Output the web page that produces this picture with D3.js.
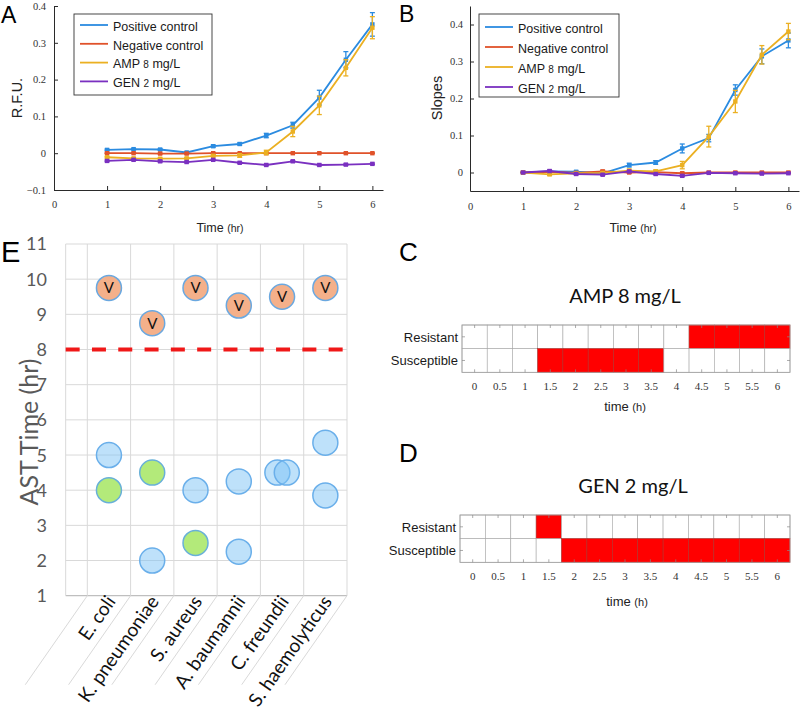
<!DOCTYPE html>
<html><head><meta charset="utf-8">
<script src="https://cdn.jsdelivr.net/npm/d3@7"></script>
<style>body{margin:0;background:#fff}svg{display:block}</style>
</head><body>
<svg id="fig" width="802" height="720"></svg>
<script>
// ---------------- data ----------------
const times = [1, 1.5, 2, 2.5, 3, 3.5, 4, 4.5, 5, 5.5, 6];
const seriesNames = ["Positive control", "Negative control", "AMP 8 mg/L", "GEN 2 mg/L"];

// Panel A: R.F.U.
const rfuPositive    = [0.009, 0.011, 0.010, 0.002, 0.019, 0.025, 0.048, 0.076, 0.151, 0.254, 0.350];
const rfuPositiveErr = [0.002, 0.002, 0.002, 0.002, 0.003, 0.003, 0.006, 0.008, 0.020, 0.022, 0.032];
const rfuNegative    = [0.000, 0.000, -0.001, -0.001, 0.000, 0.000, 0.000, 0.000, 0.000, 0.000, 0.000];
const rfuNegativeErr = [0.001, 0.001, 0.001, 0.001, 0.001, 0.001, 0.001, 0.001, 0.001, 0.001, 0.001];
const rfuAmp         = [-0.011, -0.014, -0.015, -0.014, -0.007, -0.006, 0.002, 0.059, 0.130, 0.232, 0.341];
const rfuAmpErr      = [0.002, 0.002, 0.002, 0.002, 0.003, 0.005, 0.006, 0.014, 0.025, 0.022, 0.030];
const rfuGen         = [-0.021, -0.018, -0.022, -0.024, -0.018, -0.026, -0.032, -0.022, -0.032, -0.031, -0.029];
const rfuGenErr      = [0.002, 0.002, 0.002, 0.002, 0.002, 0.002, 0.002, 0.002, 0.002, 0.002, 0.002];

// Panel B: slopes
const slopePositive    = [0.000, 0.003, 0.002, -0.002, 0.020, 0.027, 0.065, 0.093, 0.223, 0.314, 0.357];
const slopePositiveErr = [0.001, 0.002, 0.002, 0.003, 0.005, 0.005, 0.012, 0.010, 0.014, 0.020, 0.020];
const slopeNegative    = [0.000, 0.002, -0.001, 0.003, 0.000, 0.001, -0.002, 0.000, 0.000, 0.000, 0.000];
const slopeNegativeErr = [0.001, 0.002, 0.002, 0.003, 0.002, 0.002, 0.002, 0.001, 0.002, 0.001, 0.001];
const slopeAmp         = [0.000, -0.005, -0.002, -0.001, 0.005, 0.003, 0.020, 0.097, 0.192, 0.318, 0.381];
const slopeAmpErr      = [0.001, 0.003, 0.003, 0.003, 0.004, 0.004, 0.010, 0.028, 0.030, 0.025, 0.022];
const slopeGen         = [0.000, 0.004, -0.004, -0.006, 0.003, -0.004, -0.009, -0.001, -0.002, -0.003, -0.002];
const slopeGenErr      = [0.001, 0.002, 0.002, 0.002, 0.002, 0.002, 0.002, 0.001, 0.001, 0.001, 0.001];

const rfuTicks = [-0.1, 0, 0.1, 0.2, 0.3, 0.4];
const slopeTicks = [0, 0.1, 0.2, 0.3, 0.4];
const timeTicks = [0, 1, 2, 3, 4, 5, 6];

// Panel E: AST time
const species = ["E. coli", "K. pneumoniae", "S. aureus", "A. baumannii", "C. freundii", "S. haemolyticus"];
const astOverLimit = [9.75, 8.75, 9.75, 9.25, 9.5, 9.75];
const astBlue = [[5.0], [2.0], [4.0], [4.25, 2.25], [4.5, 4.5], [5.35, 3.85]];
const astGreen = [[4.0], [4.5], [2.5], [], [], []];
const astThreshold = 8;
const astTicks = [1, 2, 3, 4, 5, 6, 7, 8, 9, 10, 11];

// Panels C, D: heat maps
const heatTimes = [0, 0.5, 1, 1.5, 2, 2.5, 3, 3.5, 4, 4.5, 5, 5.5, 6];
const heatRows = ["Resistant", "Susceptible"];
const ampCalls = ["", "", "", "Susceptible", "Susceptible", "Susceptible", "Susceptible", "Susceptible", "", "Resistant", "Resistant", "Resistant", "Resistant"];
const genCalls = ["", "", "", "Resistant", "Susceptible", "Susceptible", "Susceptible", "Susceptible", "Susceptible", "Susceptible", "Susceptible", "Susceptible", "Susceptible"];

// ---------------- styles ----------------
const seriesColors = ["#2B8BE0", "#E0522A", "#EBB022", "#7A30C0"];
const sans = "'Liberation Sans', Arial, sans-serif";
const tickFont = "'Liberation Serif', serif";
const officeFont = "Lato, 'Open Sans', sans-serif";

const svg = d3.select("#fig");

function richText(sel, str, bigSize, smallSize) {
  const parts = str.split(/(\d+|\([a-z]+\))/).filter(s => s.length);
  parts.forEach(p => {
    sel.append("tspan").attr("font-size", /^(\d+|\([a-z]+\))$/.test(p) ? smallSize : bigSize).text(p);
  });
}

function linePanel(cfg) {
  const g = svg.append("g");
  const x = d3.scaleLinear().domain([0, 6.2]).range(cfg.xRange);
  const y = d3.scaleLinear().domain(cfg.yDomain).range(cfg.yRange);

  const xAxis = g.append("g").attr("transform", `translate(0,${cfg.yRange[0]})`)
    .call(d3.axisBottom(x).tickValues(timeTicks).tickSizeInner(-4).tickSizeOuter(0).tickPadding(cfg.xPad).tickFormat(d3.format("d")));
  const yAxis = g.append("g").attr("transform", `translate(${cfg.xRange[0]},0)`)
    .call(d3.axisLeft(y).tickValues(cfg.yTicks).tickSizeInner(-4).tickSizeOuter(0).tickPadding(cfg.yPad)
      .tickFormat(d => d === 0 ? "0" : d3.format(".1f")(d)));
  [xAxis, yAxis].forEach(a => {
    a.select(".domain").attr("stroke", "#2a2a2a").attr("stroke-width", 1);
    a.selectAll(".tick line").attr("stroke", "#2a2a2a");
    a.selectAll("text").attr("font-family", tickFont).attr("font-size", 10.5).attr("fill", "#333");
  });

  const line = d3.line().x((d, i) => x(times[i])).y(d => y(d));
  cfg.series.forEach((s, k) => {
    const col = seriesColors[k];
    const sg = g.append("g");
    sg.append("path").attr("d", line(s.v)).attr("fill", "none").attr("stroke", col).attr("stroke-width", 1.8);
    s.v.forEach((v, i) => {
      const cx = x(times[i]);
      const y1 = y(v - s.e[i]), y2 = y(v + s.e[i]);
      sg.append("line").attr("x1", cx).attr("x2", cx).attr("y1", y1).attr("y2", y2).attr("stroke", col).attr("stroke-width", 1.3);
      [y1, y2].forEach(yy => sg.append("line").attr("x1", cx - 2.5).attr("x2", cx + 2.5).attr("y1", yy).attr("y2", yy).attr("stroke", col).attr("stroke-width", 1.3));
      sg.append("rect").attr("x", cx - 2.2).attr("y", y(v) - 2.2).attr("width", 4.4).attr("height", 4.4).attr("fill", col);
    });
  });

  const lb = cfg.legend;
  g.append("rect").attr("x", lb.x).attr("y", lb.y).attr("width", lb.w).attr("height", lb.h)
    .attr("fill", "#fff").attr("stroke", "#333").attr("stroke-width", 0.9);
  seriesNames.forEach((name, k) => {
    const yy = lb.y + lb.first + k * lb.step;
    g.append("line").attr("x1", lb.x + 6).attr("x2", lb.x + 34).attr("y1", yy).attr("y2", yy)
      .attr("stroke", seriesColors[k]).attr("stroke-width", 1.8);
    const t = g.append("text").attr("x", lb.x + 39).attr("y", yy).attr("dy", "0.36em")
      .attr("font-family", sans).attr("fill", "#1a1a1a");
    richText(t, name, 12.5, 10);
  });

  const xt = g.append("text").attr("x", cfg.xTitle[0]).attr("y", cfg.xTitle[1]).attr("text-anchor", "middle")
    .attr("dy", "0.35em").attr("font-family", sans).attr("fill", "#222");
  richText(xt, "Time (hr)", 12.5, 10.5);
  g.append("text").attr("transform", `translate(${cfg.yTitle[0]},${cfg.yTitle[1]}) rotate(-90)`)
    .attr("text-anchor", "middle").attr("dy", "0.35em").attr("font-family", sans).attr("font-size", 14.5)
    .attr("fill", "#222").text(cfg.yLabel);
  svg.append("text").attr("x", cfg.letter[0]).attr("y", cfg.letter[1]).attr("font-family", sans)
    .attr("font-size", 23).attr("fill", "#000").text(cfg.letterText);
}

linePanel({
  xRange: [54, 383], yDomain: [-0.1, 0.4], yRange: [190, 6], yTicks: rfuTicks, xPad: 11, yPad: 8,
  series: [
    { v: rfuPositive, e: rfuPositiveErr }, { v: rfuNegative, e: rfuNegativeErr },
    { v: rfuAmp, e: rfuAmpErr }, { v: rfuGen, e: rfuGenErr }],
  legend: { x: 74, y: 14, w: 138, h: 81, first: 11, step: 18.8 },
  xTitle: [220, 226], yTitle: [17, 98], yLabel: "R.F.U.", letter: [1, 23], letterText: "A"
});
linePanel({
  xRange: [470, 799], yDomain: [-0.05, 0.45], yRange: [191, 6], yTicks: slopeTicks, xPad: 12, yPad: 7,
  series: [
    { v: slopePositive, e: slopePositiveErr }, { v: slopeNegative, e: slopeNegativeErr },
    { v: slopeAmp, e: slopeAmpErr }, { v: slopeGen, e: slopeGenErr }],
  legend: { x: 479, y: 14, w: 140, h: 83, first: 13, step: 20 },
  xTitle: [633, 226], yTitle: [437, 98], yLabel: "Slopes", letter: [399, 22], letterText: "B"
});

// ---------------- Panel E ----------------
(function () {
  const g = svg.append("g");
  const x = d3.scaleBand().domain(species).range([87.3, 347]);
  const bw = x.bandwidth();
  const y = d3.scaleLinear().domain([1, 11]).range([595.7, 244]);
  const left = x.range()[0] - bw / 2, right = x.range()[1];
  const bottom = y(1), top = y(11);
  const grid = "#D9D9D9";

  astTicks.forEach(t => {
    g.append("line").attr("x1", left).attr("x2", right).attr("y1", y(t)).attr("y2", y(t))
      .attr("stroke", t === 1 ? "#BFBFBF" : grid).attr("stroke-width", t === 1 ? 1.3 : 1);
    g.append("text").attr("x", 47).attr("y", y(t)).attr("dy", "0.36em").attr("text-anchor", "end")
      .attr("font-family", officeFont).attr("font-size", 18).attr("fill", "#595959").text(t);
  });
  g.append("line").attr("x1", left).attr("x2", left).attr("y1", top).attr("y2", bottom).attr("stroke", grid);
  const bounds = species.map(s => x(s)).concat([right]);
  bounds.forEach(b => {
    g.append("line").attr("x1", b).attr("x2", b).attr("y1", top).attr("y2", bottom).attr("stroke", grid);
    g.append("line").attr("x1", b).attr("x2", b - 62).attr("y1", bottom).attr("y2", bottom + 89)
      .attr("stroke", grid).attr("stroke-width", 1);
  });

  g.append("line").attr("x1", left).attr("x2", right).attr("y1", y(astThreshold)).attr("y2", y(astThreshold))
    .attr("stroke", "#F01818").attr("stroke-width", 4).attr("stroke-dasharray", "14,12.3");

  const r = 12.5;
  species.forEach((s, i) => {
    const cx = x(s) + bw / 2;
    const vals = astBlue[i];
    vals.forEach((v, j) => {
      const dup = vals.filter(w => w === v).length > 1;
      const idx = vals.slice(0, j).filter(w => w === v).length;
      const dx = dup ? (idx === 0 ? -4.7 : 4.7) : 0;
      g.append("circle").attr("cx", cx + dx).attr("cy", y(v)).attr("r", r)
        .attr("fill", "rgb(125,195,245)").attr("fill-opacity", 0.5)
        .attr("stroke", "#6AAFEA").attr("stroke-width", 1.5);
    });
    astGreen[i].forEach(v => {
      g.append("circle").attr("cx", cx).attr("cy", y(v)).attr("r", r)
        .attr("fill", "#B3EA7A").attr("stroke", "#68B0D8").attr("stroke-width", 1.5);
    });
    const v = astOverLimit[i];
    g.append("circle").attr("cx", cx).attr("cy", y(v)).attr("r", r)
      .attr("fill", "#F4B08A").attr("stroke", "#6AA8E0").attr("stroke-width", 1.5);
    g.append("text").attr("x", cx).attr("y", y(v)).attr("dy", "0.36em").attr("text-anchor", "middle")
      .attr("font-family", officeFont).attr("font-size", 15).attr("fill", "#111").text("V");

    g.append("text").attr("transform", `translate(${cx + 2},${bottom + 2}) rotate(-55)`)
      .attr("text-anchor", "end").attr("dy", "0.35em").attr("font-family", officeFont).attr("font-size", 19)
      .attr("fill", "#111").text(s);
  });

  g.append("text").attr("transform", `translate(29,432) rotate(-90)`)
    .attr("text-anchor", "middle").attr("dy", "0.35em").attr("font-family", officeFont).attr("font-size", 25)
    .attr("fill", "#595959").text("AST Time (hr)");
  svg.append("text").attr("x", 1).attr("y", 262).attr("font-family", sans).attr("font-size", 29).text("E");
})();

// ---------------- Panels C, D ----------------
function heatPanel(cfg) {
  const g = svg.append("g");
  const x = d3.scaleBand().domain(heatTimes).range(cfg.xRange);
  const y = d3.scaleBand().domain(heatRows).range(cfg.yRange);
  heatTimes.forEach((t, i) => {
    heatRows.forEach(row => {
      g.append("rect").attr("x", x(t)).attr("y", y(row)).attr("width", x.bandwidth()).attr("height", y.bandwidth())
        .attr("fill", cfg.calls[i] === row ? "#FF0000" : "#fff")
        .attr("stroke", cfg.calls[i] === row ? "#B0302A" : "#A8A8A8").attr("stroke-width", 0.6);
    });
  });
  const [x0, x1] = cfg.xRange, [y0, y1] = cfg.yRange;
  g.append("rect").attr("x", x0).attr("y", y0).attr("width", x1 - x0).attr("height", y1 - y0)
    .attr("fill", "none").attr("stroke", "#A0A0A0").attr("stroke-width", 0.8);
  heatTimes.forEach(t => {
    const cx = x(t) + x.bandwidth() / 2;
    g.append("line").attr("x1", cx).attr("x2", cx).attr("y1", y0).attr("y2", y0 + 3).attr("stroke", "#888").attr("stroke-width", 0.7);
    g.append("line").attr("x1", cx).attr("x2", cx).attr("y1", y1).attr("y2", y1 - 3).attr("stroke", "#888").attr("stroke-width", 0.7);
    g.append("text").attr("x", cx).attr("y", y1 + 14).attr("dy", "0.35em").attr("text-anchor", "middle")
      .attr("font-family", tickFont).attr("font-size", 11).attr("fill", "#333").text(t);
  });
  heatRows.forEach(row => {
    const cy = y(row) + y.bandwidth() / 2;
    g.append("line").attr("x1", x0).attr("x2", x0 + 3).attr("y1", cy).attr("y2", cy).attr("stroke", "#888").attr("stroke-width", 0.7);
    g.append("line").attr("x1", x1).attr("x2", x1 - 3).attr("y1", cy).attr("y2", cy).attr("stroke", "#888").attr("stroke-width", 0.7);
    g.append("text").attr("x", x0 - 4).attr("y", cy).attr("dy", "0.36em").attr("text-anchor", "end")
      .attr("font-family", sans).attr("font-size", 13).attr("fill", "#1a1a1a").text(row);
  });
  g.append("text").attr("x", cfg.title[0]).attr("y", cfg.title[1]).attr("dy", "0.35em").attr("text-anchor", "middle")
    .attr("font-family", officeFont).attr("font-size", 20).attr("fill", "#111").text(cfg.titleText);
  const xt = g.append("text").attr("x", cfg.xTitle[0]).attr("y", cfg.xTitle[1]).attr("dy", "0.35em")
    .attr("text-anchor", "middle").attr("font-family", sans).attr("fill", "#222");
  richText(xt, "time (h)", 13, 11);
  svg.append("text").attr("x", 399).attr("y", cfg.letterY).attr("font-family", sans).attr("font-size", 26).text(cfg.letter);
}

heatPanel({ xRange: [462, 790], yRange: [325, 372.3], calls: ampCalls, title: [625, 296], titleText: "AMP 8 mg/L",
  xTitle: [625, 405], letter: "C", letterY: 261 });
heatPanel({ xRange: [460, 790], yRange: [515, 562.3], calls: genCalls, title: [633, 486], titleText: "GEN 2 mg/L",
  xTitle: [627, 600], letter: "D", letterY: 462 });
</script>
</body></html>
